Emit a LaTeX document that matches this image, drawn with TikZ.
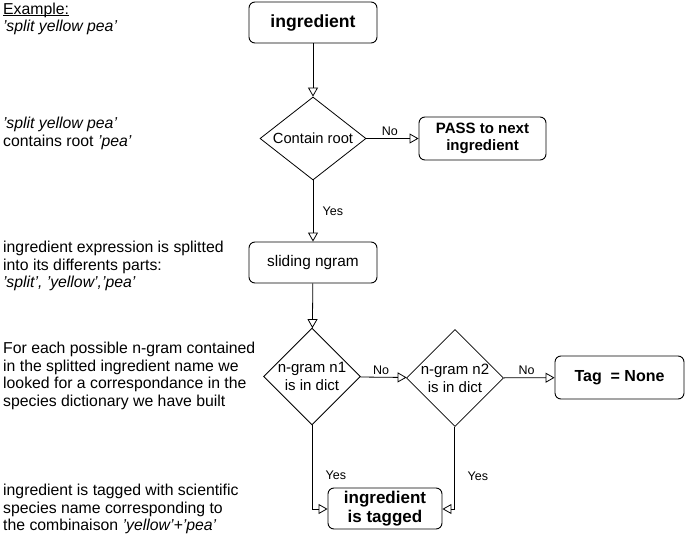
\documentclass[tikz,border=0pt]{standalone}
\usepackage{fontspec}
\setmainfont{Liberation Sans}
\usetikzlibrary{arrows.meta,shapes.geometric}
\begin{document}
\begin{tikzpicture}[x=1pt,y=-1pt,
  box/.style={draw,rounded corners=6pt,line width=0.9pt,minimum width=128pt,minimum height=41pt,align=center,inner sep=2pt},
  dia/.style={draw,diamond,line width=0.8pt,align=center,inner sep=0pt},
  arr/.style={line width=0.8pt,-{Triangle[open,length=9pt,width=10pt]}},
  lab/.style={font=\fontsize{12.5}{14}\selectfont},
  side/.style={anchor=north west,align=left,inner sep=0pt,font=\fontsize{15.8}{17.5}\selectfont}]
\useasboundingbox (0,0) rectangle (685,537);
% left texts
\node[side] (t1) at (3,3) {\underline{\smash{Example:}}\vphantom{E}\\\textit{'split yellow pea'}};
\node[side] (t2) at (3,117) {\textit{'split yellow pea'}\\contains root \textit{'pea'}};
\node[side] (t3) at (3,241) {ingredient expression is splitted\\into its differents parts:\\\textit{'split', 'yellow','pea'}};
\node[side] (t4) at (3,342) {For each possible n-gram contained\\in the splitted ingredient name we\\looked for a correspondance in the\\species dictionary we have built};
\node[side] (t5) at (3,484) {ingredient is tagged with scientific\\species name corresponding to\\the combinaison \textit{'yellow'+'pea'}};
% flow nodes
\node[box,font=\fontsize{17.6}{19}\selectfont\bfseries] (ing) at (313,22.5) {ingredient};
\node[dia,minimum width=106pt,minimum height=83pt,font=\fontsize{14.7}{16}\selectfont,aspect=1.28] (root) at (313,138.5) {Contain root};
\node[box,minimum width=127pt,minimum height=43pt,font=\fontsize{15}{17}\selectfont\bfseries] (pass) at (482.5,138.5) {PASS to next\\ingredient};
\node[box,font=\fontsize{15.4}{17}\selectfont] (slide) at (313,262.5) {sliding ngram};
\node[dia,minimum width=94pt,minimum height=95pt,font=\fontsize{15}{18}\selectfont] (n1) at (312,376.5) {n-gram n1\\is in dict};
\node[dia,minimum width=94pt,minimum height=95pt,font=\fontsize{15}{18}\selectfont] (n2) at (455,378) {n-gram n2\\is in dict};
\node[box,minimum width=129pt,minimum height=43pt,font=\fontsize{16}{18}\selectfont\bfseries] (none) at (619.5,377.5) {Tag\ \ = None};
\node[box,minimum width=114pt,minimum height=41pt,font=\fontsize{17}{19.5}\selectfont\bfseries] (tag) at (385,508.5) {ingredient\\is tagged};
% connectors
\draw[arr] (ing) -- (root);
\draw[arr] (root) -- node[lab,above,pos=0.45,yshift=-1pt] {No} (pass);
\draw[arr] (root) -- node[lab,right,pos=0.5,xshift=6pt] {Yes} (slide);
\draw[arr] (slide) -- (n1);
\draw[arr] (n1) -- node[lab,above,pos=0.45,yshift=-1pt] {No} (n2);
\draw[arr] (n2) -- node[lab,above,pos=0.45,yshift=-1pt] {No} (none);
\coordinate (c1) at (312,509);
\coordinate (c2) at (454,509);
\draw[arr] (n1.south) -- node[lab,right,pos=0.6,xshift=10pt] {Yes} (c1) -- (tag.west |- c1);
\draw[arr] (n2.south -| c2) -- node[lab,right,pos=0.6,xshift=10pt] {Yes} (c2) -- (tag.east |- c2);
\end{tikzpicture}
\end{document}
